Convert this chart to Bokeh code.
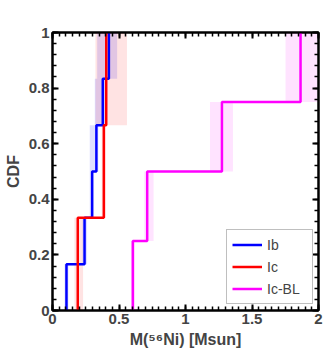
from bokeh.plotting import figure
from bokeh.models import LinearAxis, FixedTicker, Legend, LegendItem, Range1d
from bokeh.embed import file_html
from bokeh.resources import INLINE

# Data: sorted Ni-56 masses per SN type (Msun) and their uncertainty bands
ib_mass = [0.105, 0.241, 0.298, 0.330, 0.378, 0.424]
ib_lo = [0.09, 0.225, 0.28, 0.28, 0.318, 0.336]
ib_hi = [0.12, 0.26, 0.31, 0.345, 0.40, 0.486]

ic_mass = [0.190, 0.386, 0.404]
ic_lo = [0.165, 0.37, 0.323]
ic_hi = [0.23, 0.40, 0.56]

icbl_mass = [0.604, 0.712, 1.274, 1.865]
icbl_lo = [0.59, 0.69, 1.184, 1.752]
icbl_hi = [0.62, 0.76, 1.357, 1.99]

x_ticks = [0, 0.5, 1, 1.5, 2]
y_ticks = [0, 0.2, 0.4, 0.6, 0.8, 1]
x_minor = [i * 0.05 for i in range(41)]
y_minor = [i * 0.04 for i in range(26)]

FONT = "Liberation Sans"

p = figure(frame_width=266, frame_height=278, output_backend="svg", toolbar_location=None,
           x_range=Range1d(0, 2), y_range=Range1d(0, 1),
           min_border_left=52, min_border_right=9, min_border_top=32, min_border_bottom=45)
p.xgrid.visible = False
p.ygrid.visible = False
p.outline_line_color = "black"
p.outline_line_width = 2


def ecdf_line(vals):
    n = len(vals)
    xs, ys = [], []
    for i, v in enumerate(vals):
        xs += [v, v]
        ys += [i / n, (i + 1) / n]
    return xs, ys


series = [
    ("Ib", ib_mass, ib_lo, ib_hi, "#0000ff", 0.13),
    ("Ic", ic_mass, ic_lo, ic_hi, "#ff0000", 0.11),
    ("Ic-BL", icbl_mass, icbl_lo, icbl_hi, "#ff00ff", 0.11),
]

for name, vals, lo, hi, col, a in series:
    n = len(vals)
    bottoms = [i / n for i in range(n)]
    tops = [(i + 1) / n for i in range(n)]
    p.quad(left=lo, right=hi, bottom=bottoms, top=tops, fill_color=col,
           fill_alpha=a, line_color=None)

items = []
for name, vals, lo, hi, col, a in series:
    xs, ys = ecdf_line(vals)
    r = p.line(xs, ys, line_color=col, line_width=2.5)
    items.append(LegendItem(label=name, renderers=[r]))

legend = Legend(items=items, location=(174, 6), border_line_color="#808080",
                border_line_width=1, label_text_font=FONT, label_text_font_size="14px",
                glyph_width=30, glyph_height=19, label_height=19, spacing=3,
                padding=5, margin=0, label_standoff=5, label_width=40,
                background_fill_alpha=1)
p.add_layout(legend, "center")


def style_axis(ax, show_labels=True):
    ax.axis_line_width = 2
    ax.major_tick_in = 6
    ax.major_tick_out = 0
    ax.minor_tick_in = 4
    ax.minor_tick_out = 0
    ax.major_tick_line_width = 2
    ax.minor_tick_line_width = 1.5
    ax.major_tick_line_color = "black"
    ax.minor_tick_line_color = "black"
    ax.major_label_text_font = FONT
    ax.major_label_text_font_style = "bold"
    ax.major_label_text_font_size = "15px"
    ax.major_label_standoff = 3
    if not show_labels:
        ax.major_label_text_font_size = "0px"
        ax.major_label_text_alpha = 0
        ax.major_label_standoff = 0


p.xaxis.ticker = FixedTicker(ticks=x_ticks, minor_ticks=x_minor)
p.yaxis.ticker = FixedTicker(ticks=y_ticks, minor_ticks=y_minor)
p.xaxis.major_label_overrides = {0: "0", 0.5: "0.5", 1: "1", 1.5: "1.5", 2: "2"}
p.yaxis.major_label_overrides = {0: "0", 0.2: "0.2", 0.4: "0.4", 0.6: "0.6", 0.8: "0.8", 1: "1"}
style_axis(p.xaxis[0])
style_axis(p.yaxis[0])
p.xaxis.axis_label = "M(⁵⁶Ni) [Msun]"
p.yaxis.axis_label = "CDF"
for ax in (p.xaxis[0], p.yaxis[0]):
    ax.axis_label_text_font = FONT
    ax.axis_label_text_font_style = "bold"
    ax.axis_label_text_font_size = "16px"
    ax.axis_label_standoff = 4

top = LinearAxis(ticker=FixedTicker(ticks=x_ticks, minor_ticks=x_minor))
style_axis(top, False)
right = LinearAxis(ticker=FixedTicker(ticks=y_ticks, minor_ticks=y_minor))
style_axis(right, False)
p.add_layout(top, "above")
p.add_layout(right, "right")

open("out.html", "w").write(file_html(p, INLINE))
